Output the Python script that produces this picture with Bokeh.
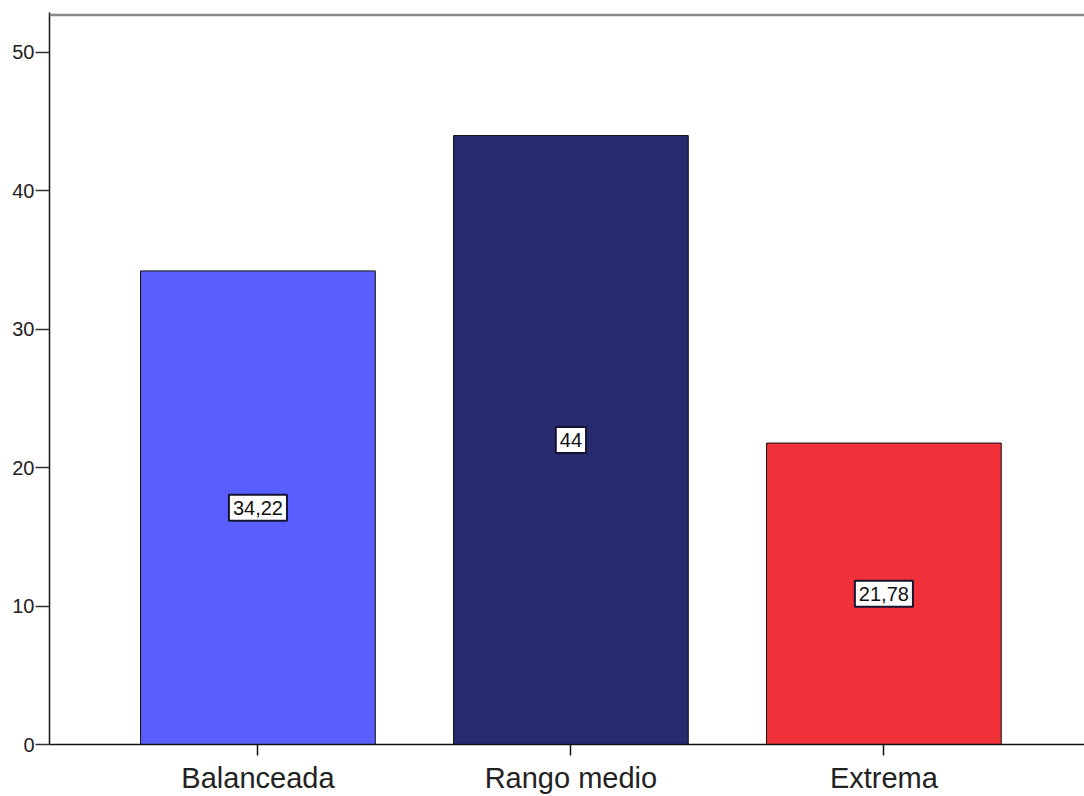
from bokeh.plotting import figure
from bokeh.models import ColumnDataSource, Range1d, FixedTicker, Span
from bokeh.core.properties import value
from bokeh.embed import file_html
from bokeh.resources import INLINE

categories = ["Balanceada", "Rango medio", "Extrema"]
values = [34.22, 44, 21.78]
value_labels = ["34,22", "44", "21,78"]
colors = ["#5A5EFF", "#282A70", "#F0313A"]
y_ticks = [0, 10, 20, 30, 40, 50]

xs = list(range(len(categories)))
src = ColumnDataSource(dict(
    x=xs, top=values, mid=[v / 2 for v in values],
    lab=value_labels, color=colors,
))

p = figure(width=1084, height=796, output_backend="svg", toolbar_location=None,
           x_range=Range1d(-0.666, 2.641), y_range=Range1d(0, 52.89),
           min_border_left=49, min_border_right=0, min_border_top=12,
           min_border_bottom=52)
p.outline_line_color = None
p.xgrid.visible = False
p.ygrid.visible = False
p.background_fill_color = "white"
p.border_fill_color = "white"

p.vbar(x="x", top="top", width=0.75, bottom=0, source=src,
       fill_color="color", line_color="#111111", line_width=1)

p.text(x="x", y="mid", text="lab", source=src,
       text_align="center", text_baseline="middle",
       text_font=value("Liberation Sans"), text_font_size="20px",
       text_color="#111111",
       background_fill_color="white",
       border_line_color="#151530", border_line_width=2,
       padding=dict(x=4, y=6))

top_line = Span(location=52.71, dimension="width", line_color="#888888",
                line_width=2.5)
p.add_layout(top_line)

# y axis
p.yaxis.ticker = FixedTicker(ticks=y_ticks)
p.yaxis.minor_tick_line_color = None
p.yaxis.major_tick_in = 0
p.yaxis.major_tick_out = 14
p.yaxis.major_label_standoff = 1
p.yaxis.axis_line_color = "#111111"
p.yaxis.axis_line_width = 1.5
p.yaxis.major_tick_line_color = "#333333"
p.yaxis.major_tick_line_width = 1.5
p.yaxis.major_label_text_font = "Liberation Sans"
p.yaxis.major_label_text_font_size = "20px"
p.yaxis.major_label_text_color = "#222222"

# x axis
p.xaxis.ticker = FixedTicker(ticks=xs)
p.xaxis.major_label_overrides = {i: c for i, c in zip(xs, categories)}
p.xaxis.minor_tick_line_color = None
p.xaxis.major_tick_in = 0
p.xaxis.major_tick_out = 11
p.xaxis.major_label_standoff = 6
p.xaxis.axis_line_color = "#111111"
p.xaxis.axis_line_width = 1.5
p.xaxis.major_tick_line_color = "#111111"
p.xaxis.major_tick_line_width = 1.5
p.xaxis.major_label_text_font = "Liberation Sans"
p.xaxis.major_label_text_font_size = "29px"
p.xaxis.major_label_text_color = "#222222"

open("out.html", "w").write(file_html(p, INLINE))
